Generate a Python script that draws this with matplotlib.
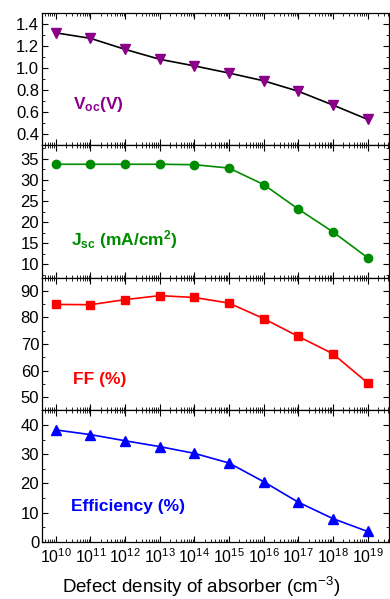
import numpy as np
import matplotlib
matplotlib.use("Agg")
import matplotlib.pyplot as plt
from matplotlib.ticker import LogLocator, AutoMinorLocator, NullFormatter

plt.rcParams['font.family'] = ['Liberation Sans', 'DejaVu Sans']
plt.rcParams['mathtext.fontset'] = 'custom'
plt.rcParams['mathtext.rm'] = 'Liberation Sans'
plt.rcParams['mathtext.bf'] = 'Liberation Sans:bold'

# defect density of absorber (cm^-3)
defect_density = [1e10, 1e11, 1e12, 1e13, 1e14, 1e15, 1e16, 1e17, 1e18, 1e19]
voc = [1.32, 1.27, 1.17, 1.08, 1.02, 0.955, 0.885, 0.79, 0.665, 0.535]
jsc = [33.7, 33.7, 33.7, 33.7, 33.6, 32.8, 28.9, 23.1, 17.7, 11.6]
ff = [84.8, 84.7, 86.6, 88.1, 87.4, 85.3, 79.5, 72.8, 66.3, 55.4]
eff = [38.3, 36.7, 34.6, 32.6, 30.3, 27.0, 20.6, 13.6, 8.0, 3.6]

panels = [
    dict(y=voc, color='#8B008B', line='black', marker='v', ms=7, ylim=(0.3, 1.5),
         ticks=[0.4, 0.6, 0.8, 1.0, 1.2, 1.4], fmt='{:.1f}',
         label=r'$\mathbf{V_{oc}}$$\mathbf{(V)}$', lpos=(0.09, 0.31)),
    dict(y=jsc, color='#008C00', line='#008C00', marker='o', ms=6, ylim=(6.9, 38.2),
         ticks=[10, 15, 20, 25, 30, 35], fmt='{:.0f}',
         label=r'$\mathbf{J_{sc}}$ $\mathbf{(mA/cm^2)}$', lpos=(0.085, 0.29)),
    dict(y=ff, color='#FF0000', line='#FF0000', marker='s', ms=6, ylim=(45.3, 94.9),
         ticks=[50, 60, 70, 80, 90], fmt='{:.0f}',
         label='FF (%)', lpos=(0.09, 0.23)),
    dict(y=eff, color='#0000FF', line='#0000FF', marker='^', ms=7, ylim=(0, 45.2),
         ticks=[0, 10, 20, 30, 40], fmt='{:.0f}',
         label='Efficiency (%)', lpos=(0.085, 0.27)),
]

fig = plt.figure(figsize=(3.9, 5.99), dpi=100)
top, bottom = 1 - 13 / 599, 1 - 542 / 599
h = (top - bottom) / 4
left, width = 42 / 390, 347 / 390

for i, p in enumerate(panels):
    ax = fig.add_axes([left, top - (i + 1) * h, width, h])
    ax.plot(defect_density, p['y'], color=p['line'], lw=1.2, zorder=1)
    ax.plot(defect_density, p['y'], ls='none', marker=p['marker'], color=p['color'],
            ms=p['ms'], zorder=2)
    ax.set_xscale('log')
    ax.set_xlim(10 ** 9.6, 10 ** 19.62)
    ax.set_ylim(*p['ylim'])
    ax.set_yticks(p['ticks'])
    ax.set_yticklabels([p['fmt'].format(t) for t in p['ticks']])
    ax.yaxis.set_minor_locator(AutoMinorLocator(2))
    ax.xaxis.set_major_locator(LogLocator(base=10, numticks=20))
    ax.xaxis.set_minor_locator(LogLocator(base=10, subs=np.arange(2, 10), numticks=100))
    ax.xaxis.set_minor_formatter(NullFormatter())
    ax.tick_params(which='both', direction='in', top=True, right=True, labelsize=12, pad=2)
    ax.tick_params(which='major', length=4, width=0.8)
    ax.tick_params(which='minor', length=2, width=0.6)
    for s in ax.spines.values():
        s.set_linewidth(0.9)
    ax.text(*p['lpos'], p['label'], transform=ax.transAxes, color=p['color'],
            fontsize=12.5, fontweight='bold', va='center', ha='left')
    if i < 3:
        ax.tick_params(labelbottom=False)
    else:
        ax.set_xticks(defect_density)
        ax.set_xticklabels([r'$10^{%d}$' % int(np.log10(d)) for d in defect_density])
        ax.tick_params(axis='x', labelsize=11.5, pad=4)
        ax.set_xlabel(r'Defect density of absorber (cm$^{-3}$)', fontsize=13.5)
        ax.xaxis.set_label_coords(0.458, -0.245)

fig.savefig('out.png', dpi=100)
